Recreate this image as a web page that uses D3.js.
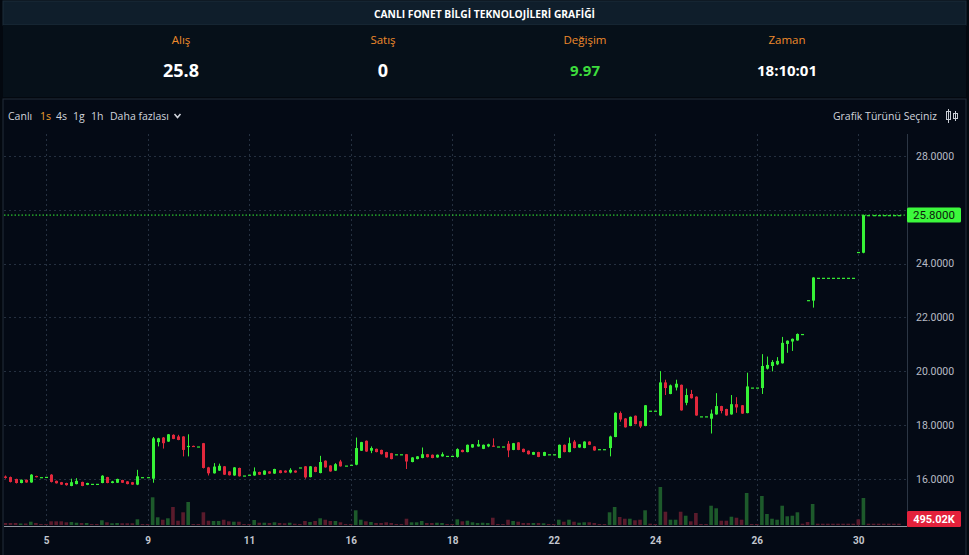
<!DOCTYPE html>
<html><head><meta charset="utf-8">
<script src="https://cdn.jsdelivr.net/npm/d3@7/dist/d3.min.js"></script>
<style>html,body{margin:0;padding:0;background:#03080f;overflow:hidden}</style>
</head><body><svg id="c" width="969" height="555"></svg>
<script>
const title = "CANLI FONET BİLGİ TEKNOLOJİLERİ GRAFİĞİ";
const statLabels = ["Alış", "Satış", "Değişim", "Zaman"];
const statValues = ["25.8", "0", "9.97", "18:10:01"];
const intervals = ["Canlı", "1s", "4s", "1g", "1h", "Daha fazlası"];
const chartTypeLabel = "Grafik Türünü Seçiniz";
const priceTicks = [16, 18, 20, 22, 24, 26, 28];
const dayTickIndex = [8, 28, 48, 68, 88, 108, 128, 148, 168];
const dayTickLabels = ["5", "9", "11", "16", "18", "22", "24", "26", "30"];
const lastPrice = 25.8;
const lastVolumeLabel = "495.02K";

const open = [16.08,16.06,15.99,15.84,15.96,15.86,16.10,16.06,16.07,16.15,15.92,15.87,15.84,15.73,15.80,15.88,15.77,15.81,15.81,15.84,
16.06,15.84,15.85,15.95,15.90,15.87,15.78,16.06,16.06,16.00,17.36,17.53,17.38,17.63,17.57,17.57,17.20,17.22,17.20,17.32,
16.42,16.20,16.30,16.46,16.27,16.12,16.40,16.12,16.15,16.12,16.25,16.15,16.27,16.19,16.31,16.30,16.23,16.30,16.42,16.46,
16.06,16.44,16.21,16.67,16.49,16.30,16.64,16.49,16.52,16.52,17.04,17.41,17.04,17.11,17.07,16.99,16.95,16.91,16.91,16.91,
16.62,16.73,16.77,16.91,16.89,16.79,16.83,16.85,16.85,16.81,17.07,16.99,17.16,17.20,17.11,17.20,17.23,17.20,17.20,17.30,
17.07,17.35,17.11,17.04,16.89,16.99,16.85,16.91,16.91,16.77,17.26,16.99,17.38,17.16,17.14,17.38,17.20,17.10,17.10,17.14,
17.55,18.44,18.24,17.96,18.34,18.14,17.96,18.53,18.53,18.35,19.58,19.15,19.39,19.49,18.82,19.15,19.05,18.32,18.32,18.23,
18.39,18.70,18.59,18.39,18.77,18.73,18.44,19.39,19.39,19.37,20.09,20.19,20.25,20.29,21.01,21.10,21.14,21.38,22.64,22.62,
23.47,23.47,23.47,23.47,23.47,23.47,23.47,23.47,24.43,24.40,25.80,25.80,25.80,25.80,25.80,25.80,25.80];
const high = [16.12,16.08,16.00,15.97,15.97,16.17,16.11,16.06,16.07,16.17,15.93,15.88,15.85,16.00,16.02,15.89,15.85,15.81,15.81,16.13,
16.07,15.92,16.00,15.96,15.91,15.88,16.33,16.06,16.06,17.55,17.52,17.55,17.66,17.65,17.63,17.58,17.65,17.23,17.20,17.33,
16.44,16.58,16.56,16.47,16.28,16.43,16.41,16.12,16.15,16.42,16.26,16.31,16.28,16.37,16.32,16.31,16.39,16.31,16.42,16.47,
16.47,16.45,16.85,16.68,16.50,16.58,16.70,16.49,16.52,17.53,17.37,17.42,17.20,17.12,17.08,17.00,16.96,16.91,16.91,16.92,
16.80,16.84,17.16,16.92,16.90,16.90,16.98,16.85,16.85,17.13,17.08,17.27,17.29,17.44,17.27,17.30,17.50,17.20,17.20,17.40,
17.33,17.36,17.12,17.05,17.00,17.00,17.00,16.91,16.91,17.27,17.27,17.53,17.44,17.29,17.39,17.39,17.21,17.10,17.10,17.60,
18.47,18.50,18.25,18.31,18.35,18.15,18.74,18.53,18.53,20.00,19.68,19.50,19.68,19.50,19.35,19.30,19.06,18.32,18.32,18.57,
19.18,18.71,18.60,19.11,19.03,18.74,19.94,19.39,19.39,20.63,20.54,20.41,20.52,21.27,21.14,21.21,21.40,21.38,22.64,23.49,
23.47,23.47,23.47,23.47,23.47,23.47,23.47,23.47,24.43,25.82,25.80,25.80,25.80,25.80,25.80,25.80,25.80];
const low = [16.00,15.86,15.82,15.83,15.85,15.85,16.05,16.06,16.07,15.86,15.82,15.77,15.74,15.72,15.79,15.72,15.76,15.81,15.81,15.83,
15.83,15.83,15.84,15.84,15.79,15.77,15.76,16.06,16.06,15.85,17.20,17.12,17.37,17.47,17.43,16.83,16.83,17.20,17.20,16.38,
16.12,16.19,16.29,16.14,16.12,16.11,16.08,16.12,16.15,16.11,16.14,16.14,16.18,16.18,16.20,16.22,16.20,16.22,16.42,16.00,
16.05,16.24,16.20,16.41,16.26,16.29,16.45,16.49,16.52,16.50,17.03,17.00,16.95,16.98,16.90,16.78,16.72,16.91,16.91,16.36,
16.61,16.72,16.76,16.79,16.76,16.78,16.82,16.85,16.85,16.78,16.98,16.98,17.15,17.19,17.10,17.17,17.18,17.20,17.20,16.80,
17.06,17.06,16.98,16.90,16.88,16.80,16.84,16.91,16.91,16.76,16.98,16.98,17.13,17.15,17.13,17.25,17.04,17.10,17.10,16.83,
17.54,18.12,17.90,17.95,18.02,17.88,17.95,18.53,18.53,18.33,19.11,19.14,19.28,18.53,18.73,18.98,18.34,18.32,18.32,17.68,
18.38,18.43,18.34,18.38,18.45,18.41,18.43,19.39,19.39,19.15,20.06,19.99,20.22,20.28,20.68,20.75,21.13,21.38,22.64,22.36,
23.47,23.47,23.47,23.47,23.47,23.47,23.47,23.47,24.43,24.38,25.80,25.80,25.80,25.80,25.80,25.80,25.80];
const close = [16.03,15.88,15.84,15.96,15.86,16.15,16.06,16.06,16.07,15.88,15.83,15.78,15.76,15.87,15.92,15.73,15.84,15.81,15.81,16.11,
15.84,15.90,15.99,15.85,15.80,15.78,16.09,16.06,16.06,17.50,17.50,17.32,17.65,17.48,17.44,17.07,17.22,17.20,17.20,16.40,
16.20,16.45,16.48,16.15,16.13,16.42,16.09,16.12,16.15,16.27,16.15,16.30,16.19,16.36,16.21,16.23,16.33,16.23,16.42,16.05,
16.46,16.25,16.62,16.42,16.27,16.54,16.46,16.49,16.52,17.14,17.36,17.01,17.14,16.99,16.91,16.79,16.73,16.91,16.91,16.64,
16.79,16.83,16.91,16.80,16.77,16.89,16.91,16.85,16.85,17.10,16.99,17.26,17.28,17.28,17.26,17.28,17.20,17.20,17.20,17.05,
17.32,17.07,16.99,16.91,16.99,16.81,16.99,16.91,16.91,17.26,16.99,17.32,17.14,17.28,17.38,17.26,17.05,17.10,17.10,17.57,
18.45,18.20,17.91,18.30,18.03,17.94,18.73,18.53,18.53,19.58,19.37,19.47,19.53,18.54,19.11,18.99,18.35,18.32,18.32,18.42,
18.70,18.52,18.35,18.77,18.65,18.42,19.43,19.39,19.39,20.19,20.23,20.34,20.38,21.05,21.13,21.20,21.38,21.38,22.64,23.48,
23.47,23.47,23.47,23.47,23.47,23.47,23.47,23.47,24.43,25.80,25.80,25.80,25.80,25.80,25.80,25.80,25.80];
const volume = [760,760,760,570,570,1250,760,380,380,1400,1400,1400,1030,1140,870,760,760,380,380,1790,
1030,650,760,650,650,650,2170,380,380,10530,2930,2010,2550,6840,1630,4830,8740,380,380,4830,
1630,1520,1520,2010,1400,1250,1250,380,380,1900,870,870,760,1030,760,650,870,495,380,1520,
1140,1520,2550,2010,1520,1520,1030,380,380,5590,2010,1400,1140,760,760,1030,760,380,380,2390,
1030,1030,1520,760,760,870,760,380,380,2170,1400,1630,1030,760,870,760,2770,380,380,2010,
1520,1250,760,760,760,760,650,380,380,2010,1250,2010,1250,870,1030,1030,760,380,380,4830,
6840,3040,2390,2390,1790,2010,5590,495,380,14440,5050,2010,2010,5050,3530,1400,4560,380,380,7330,
6350,1630,1630,3150,2770,2010,12160,380,380,11020,4180,2390,2010,7330,3310,3530,4830,495,1140,7980,
495,495,495,495,495,495,495,495,2170,10260,495,495,495,495,495,495,495.02];

const W = 969, H = 555;
const svg = d3.select("#c");
const GREEN = "#36f236", RED = "#e2283c";
const VGREEN = "#1d5a2b", VRED = "#5a1b2c";
const plotL = 4, plotR = 907, plotT = 134, plotB = 526;

// backgrounds
svg.append("rect").attr("x",0).attr("y",0).attr("width",W).attr("height",H).attr("fill","#03080f");
svg.append("rect").attr("x",3).attr("y",1).attr("width",963).attr("height",24).attr("fill","#0f1e2b").attr("stroke","#1d2c3b");
svg.append("rect").attr("x",3).attr("y",25).attr("width",963).attr("height",72).attr("fill","#061019");
svg.append("rect").attr("x",3).attr("y",99).attr("width",963).attr("height",460).attr("fill","#040a15").attr("stroke","#232d3a");

// title
svg.append("text").attr("x",484.5).attr("y",17.5).attr("text-anchor","middle")
  .attr("font-family","'Open Sans',sans-serif").attr("font-weight","bold").attr("font-size",10.5)
  .attr("fill","#ffffff").attr("textLength",221).attr("lengthAdjust","spacingAndGlyphs").text(title);

// stats
const statX = [181, 383, 585, 787];
const statValColor = ["#ffffff","#ffffff","#3ddc3d","#ffffff"];
const statValSize = [18,18,15,15];
statLabels.forEach((s,i)=>{
  svg.append("text").attr("x",statX[i]).attr("y",44).attr("text-anchor","middle")
    .attr("font-family","'Open Sans',sans-serif").attr("font-size",11.5).attr("fill","#ee8a2c").text(s);
  svg.append("text").attr("x",statX[i]).attr("y",71).attr("dy","0.36em").attr("text-anchor","middle")
    .attr("font-family","'Open Sans',sans-serif").attr("font-weight","bold").attr("font-size",statValSize[i])
    .attr("fill",statValColor[i]).text(statValues[i]);
});

// toolbar
const tbX = [8, 40, 56, 73, 91, 110];
intervals.forEach((t,i)=>{
  svg.append("text").attr("x",tbX[i]).attr("y",120).attr("font-family","'Open Sans',sans-serif")
    .attr("font-size",10.5).attr("fill", i===1 ? "#f0a030" : "#d1d4dc").text(t);
});
svg.append("path").attr("d","M174.5,114 L177.5,117.5 L180.5,114").attr("fill","none").attr("stroke","#d1d4dc").attr("stroke-width",1.6);
svg.append("text").attr("x",937).attr("y",120).attr("text-anchor","end").attr("font-family","'Open Sans',sans-serif")
  .attr("font-size",10.5).attr("fill","#d1d4dc").text(chartTypeLabel);
// chart-type icon
const ic = svg.append("g").attr("stroke","#c8ccd4").attr("fill","none").attr("stroke-width",1);
ic.append("line").attr("x1",948.5).attr("x2",948.5).attr("y1",109).attr("y2",123);
ic.append("rect").attr("x",946.5).attr("y",111.5).attr("width",4).attr("height",8);
ic.append("line").attr("x1",955.5).attr("x2",955.5).attr("y1",111).attr("y2",121);
ic.append("rect").attr("x",953.5).attr("y",113.5).attr("width",4).attr("height",5);

// scales
const n = close.length;
const x = d3.scaleLinear().domain([0, n-1]).range([5.4, 5.4 + (n-1)*5.077]);
const y = d3.scaleLinear().domain([16, 28]).range([478.7, 155.9]);
const yv = d3.scaleLinear().domain([0, 14440]).range([525, 487]);

const defs = svg.append("defs");
defs.append("clipPath").attr("id","pc").append("rect")
  .attr("x",plotL).attr("y",plotT).attr("width",plotR-plotL).attr("height",plotB-plotT);
const ly = y(lastPrice);
defs.append("clipPath").attr("id","abovebox").append("rect")
  .attr("x",900).attr("y",0).attr("width",69).attr("height",ly-7.5);

// grid
const grid = svg.append("g");
grid.selectAll("line.h").data(priceTicks).join("line")
  .attr("x1",plotL).attr("x2",plotR).attr("y1",d=>Math.round(y(d))+0.5).attr("y2",d=>Math.round(y(d))+0.5)
  .attr("stroke","#253040").attr("stroke-dasharray","2,3");
grid.selectAll("line.v").data(dayTickIndex).join("line")
  .attr("x1",d=>Math.round(x(d))+0.5).attr("x2",d=>Math.round(x(d))+0.5).attr("y1",plotT).attr("y2",plotB)
  .attr("stroke","#253040").attr("stroke-dasharray","2,3");

const plot = svg.append("g").attr("clip-path","url(#pc)");
const idx = d3.range(n);

// volume
plot.selectAll("rect.vol").data(idx).join("rect")
  .attr("x",i=>x(i)-1.8).attr("width",3.6)
  .attr("y",i=>yv(volume[i])).attr("height",i=>525-yv(volume[i]))
  .attr("fill",i=>close[i]>open[i]?VGREEN:VRED);

// last price line
plot.append("line").attr("x1",plotL).attr("x2",plotR).attr("y1",ly).attr("y2",ly)
  .attr("stroke",GREEN).attr("stroke-dasharray","1.5,2").attr("stroke-width",1);

// candles
const col = i => close[i] >= open[i] ? GREEN : RED;
plot.selectAll("line.wick").data(idx).join("line")
  .attr("x1",i=>Math.round(x(i))+0.5).attr("x2",i=>Math.round(x(i))+0.5)
  .attr("y1",i=>y(high[i])).attr("y2",i=>y(low[i])).attr("stroke",col);
plot.selectAll("rect.body").data(idx).join("rect")
  .attr("x",i=>Math.round(x(i))-1).attr("width",3)
  .attr("y",i=>y(Math.max(open[i],close[i])))
  .attr("height",i=>Math.max(1.2, Math.abs(y(open[i])-y(close[i]))))
  .attr("fill",col);

// bottom border and axis separator
svg.append("line").attr("x1",plotL).attr("x2",plotR).attr("y1",526.5).attr("y2",526.5).attr("stroke","#9096a0");
svg.append("line").attr("x1",907.5).attr("x2",907.5).attr("y1",plotT).attr("y2",527).attr("stroke","#2c3644");

// y axis
const ya = svg.append("g").attr("transform","translate(909,0)")
  .call(d3.axisRight(y).tickValues(priceTicks).tickSize(0).tickPadding(7).tickFormat(d3.format(".4f")));
ya.select(".domain").remove();
ya.selectAll("text").attr("font-family","Roboto,sans-serif").attr("font-size",10.5).attr("fill","#b8bcc6");
// the tick hidden behind the last-price label only shows its top sliver, as in the reference
ya.selectAll(".tick").filter(d => Math.abs(y(d) - ly) < 12).attr("clip-path","url(#abovebox)");

// x axis
const xa = svg.append("g").attr("transform","translate(0,530)")
  .call(d3.axisBottom(x).tickValues(dayTickIndex).tickSize(0).tickPadding(7)
    .tickFormat((d,i)=>dayTickLabels[i]));
xa.select(".domain").remove();
xa.selectAll("text").attr("font-family","Roboto,sans-serif").attr("font-weight","bold").attr("font-size",10).attr("fill","#c2c6ce");

// last price label
svg.append("rect").attr("x",907).attr("y",ly-7.5).attr("width",54).attr("height",15).attr("rx",1.5).attr("fill","#3cf93c");
svg.append("text").attr("x",934).attr("y",ly).attr("dy","0.36em").attr("text-anchor","middle")
  .attr("font-family","Roboto,sans-serif").attr("font-size",11.5).attr("fill","#0b1a0b").text(d3.format(".4f")(lastPrice));

// last volume label
const vy = Math.min(yv(volume[n-1]), 519);
svg.append("rect").attr("x",907).attr("y",vy-8).attr("width",54).attr("height",16).attr("rx",1.5).attr("fill","#e3213b");
svg.append("text").attr("x",934).attr("y",vy).attr("dy","0.36em").attr("text-anchor","middle")
  .attr("font-family","Roboto,sans-serif").attr("font-weight","bold").attr("font-size",11).attr("fill","#ffffff").text(lastVolumeLabel);
</script></body></html>
